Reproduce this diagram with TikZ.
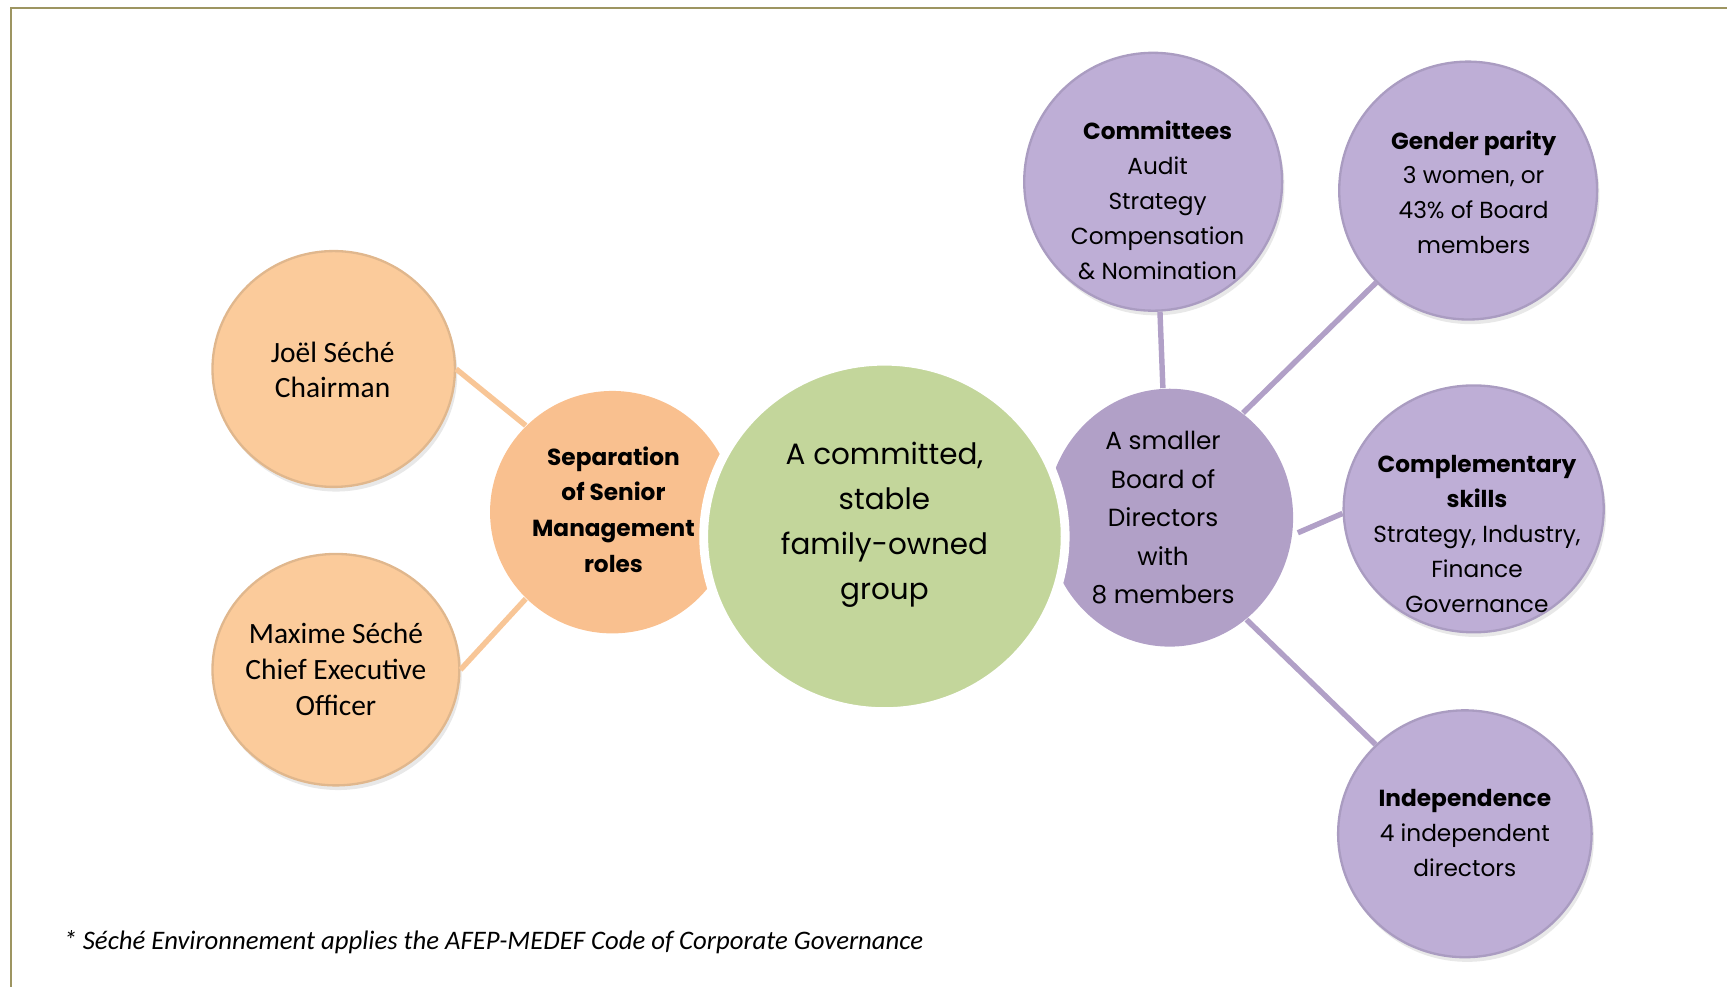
\documentclass[tikz,border=0pt]{standalone}
\usepackage{fontspec}
\setmainfont{Poppins}
\newfontfamily\calfont{Carlito}
\usetikzlibrary{shapes.geometric,shadows}
\definecolor{frame}{HTML}{9D9561}
\definecolor{peach}{HTML}{FBCB9B}
\definecolor{peachrim}{HTML}{D8A570}
\definecolor{sepor}{HTML}{F9C08F}
\definecolor{grn}{HTML}{C3D69B}
\definecolor{board}{HTML}{B1A0C7}
\definecolor{lav}{HTML}{BEAED6}
\definecolor{lavrim}{HTML}{9583B2}
\definecolor{peachline}{HTML}{F8C697}
\pgfdeclareradialshading{peachball}{\pgfpoint{0bp}{0bp}}{color(0bp)=(peach); color(36bp)=(peach); color(47bp)=(peach!88!black); color(50bp)=(peachrim)}
\pgfdeclareradialshading{lavball}{\pgfpoint{0bp}{0bp}}{color(0bp)=(lav); color(36bp)=(lav); color(47bp)=(lav!88!black); color(50bp)=(lavrim)}
\tikzset{
  ball/.style={ellipse, inner sep=0pt, draw=#1rim!80, line width=0.6pt,
    drop shadow={opacity=0.18, shadow xshift=0.6pt, shadow yshift=-1.2pt}},
  peachb/.style={ball=peach, shading=peachball},
  lavb/.style={ball=lav, shading=lavball},
  hub/.style={ellipse, inner sep=0pt},
  txt/.style={align=center, inner sep=0pt, text=black},
  small/.style={txt, font=\fontsize{6}{9}\selectfont},
  oline/.style={draw=peachline, line width=1.4pt},
  pline/.style={draw=board, line width=1.4pt},
}
\begin{document}
\begin{tikzpicture}[x=0.01cm, y=-0.01cm]
\useasboundingbox (0,0) rectangle (1568,896.1);
\draw[frame, line width=0.6pt] (10,896.1) -- (10,7) -- (1568,7);

% hub circles
\node[hub, fill=sepor, minimum width=2.22cm, minimum height=2.20cm] (sep) at (556,465) {};
\node[hub, fill=board, minimum width=2.24cm, minimum height=2.34cm] (board) at (1062,470) {};
\node[hub, fill=grn, draw=white, line width=0.08cm, minimum width=3.28cm, minimum height=3.18cm] (grp) at (803,487) {};

% outer circles
\node[peachb, minimum width=2.20cm, minimum height=2.14cm] (joel) at (303,335) {};
\node[peachb, minimum width=2.24cm, minimum height=2.10cm] (maxime) at (305,608) {};
\node[lavb, minimum width=2.34cm, minimum height=2.34cm] (com) at (1047,165) {};
\node[lavb, minimum width=2.34cm, minimum height=2.34cm] (gen) at (1333,173) {};
\node[lavb, minimum width=2.36cm, minimum height=2.24cm] (comp) at (1338,462) {};
\node[lavb, minimum width=2.30cm, minimum height=2.24cm] (ind) at (1330,757) {};

% connectors
\path[oline] (joel.east) -- (sep.135);
\path[oline] (maxime.east) -- (sep.225);
\path[pline] (com.-87) -- (board.93);
\path[pline] (gen.225) -- (board.55);
\path[pline, shorten >=0.05cm] (comp.182) -- (board.-8);
\path[pline] (ind.135) -- (board.-53);

% texts
\node[txt, font=\calfont\fontsize{7.6}{9.1}\selectfont] (joelT) at (302,336) {Joël Séché\\Chairman};
\node[txt, font=\calfont\fontsize{7.6}{9.25}\selectfont] (maximeT) at (305,607.5) {Maxime Séché\\Chief Executive\\Officer};
\node[txt, font=\bfseries\fontsize{6.0}{9.2}\selectfont] (sepT) at (557,462.5) {Separation\\of Senior\\Management\\roles};
\node[txt, font=\fontsize{7.6}{11.67}\selectfont] (grpT) at (803,476.5) {A committed,\\stable\\family-owned\\group};
\node[txt, font=\fontsize{6.4}{9.96}\selectfont] (boardT) at (1056,470) {A smaller\\Board of\\Directors\\with\\8 members};
\node[small] (comT) at (1051,182) {\textbf{Committees}\\Audit\\Strategy\\Compensation\\\& Nomination};
\node[small] (genT) at (1338,174.5) {\textbf{Gender parity}\\3 women, or\\43\% of Board\\members};
\node[small] (compT) at (1341,485) {\textbf{Complementary}\\\textbf{skills}\\Strategy, Industry,\\Finance\\Governance};
\node[small] (indT) at (1330,756) {\textbf{Independence}\\4 independent\\directors};
\node[anchor=west, inner sep=0pt, font=\calfont\itshape\fontsize{6.9}{8}\selectfont] (note) at (57,855) {* Séché Environnement applies the AFEP-MEDEF Code of Corporate Governance};
\end{tikzpicture}
\end{document}
